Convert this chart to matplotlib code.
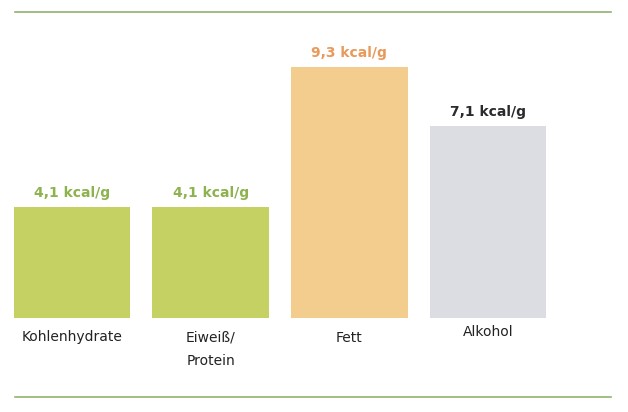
import matplotlib.pyplot as plt
from matplotlib.lines import Line2D

categories = ['Kohlenhydrate', 'Eiweiß/\nProtein', 'Fett', 'Alkohol']
values = [4.1, 4.1, 9.3, 7.1]
value_labels = ['4,1 kcal/g', '4,1 kcal/g', '9,3 kcal/g', '7,1 kcal/g']
bar_colors = ['#c6d163', '#c6d163', '#f3cd8e', '#dcdde2']
text_colors = ['#8db34f', '#8db34f', '#e9995a', '#2b2b2b']

plt.rcParams['font.family'] = ['DejaVu Sans']

fig = plt.figure(figsize=(6.28, 4.12), dpi=100)
ax = fig.add_axes([0, 0, 1, 1])
ax.axis('off')

px_per_unit_x = 138.7
px_per_unit_y = 27.0
base_px = 94  # baseline from bottom
ax.set_xlim(-72 / px_per_unit_x, (628 - 72) / px_per_unit_x)
ax.set_ylim(-base_px / px_per_unit_y, (412 - base_px) / px_per_unit_y)

x = list(range(len(categories)))
ax.bar(x, values, width=0.84, color=bar_colors)

for i, v in enumerate(values):
    ax.annotate(value_labels[i], (i, v), xytext=(0, 5), textcoords='offset points',
                ha='center', va='bottom', fontsize=10, color=text_colors[i],
                fontweight='semibold')
    dy = -9 if categories[i] != 'Alkohol' else -5
    ax.annotate(categories[i], (i, 0), xytext=(0, dy), textcoords='offset points',
                ha='center', va='top', fontsize=10, color='#222222',
                linespacing=1.9)

for yy in [1 - 12 / 412, 1 - 397 / 412]:
    fig.add_artist(Line2D([15 / 628, 611 / 628], [yy, yy], color='#8fb36f', lw=1.2))

fig.savefig('out.png', dpi=100, facecolor='white')
